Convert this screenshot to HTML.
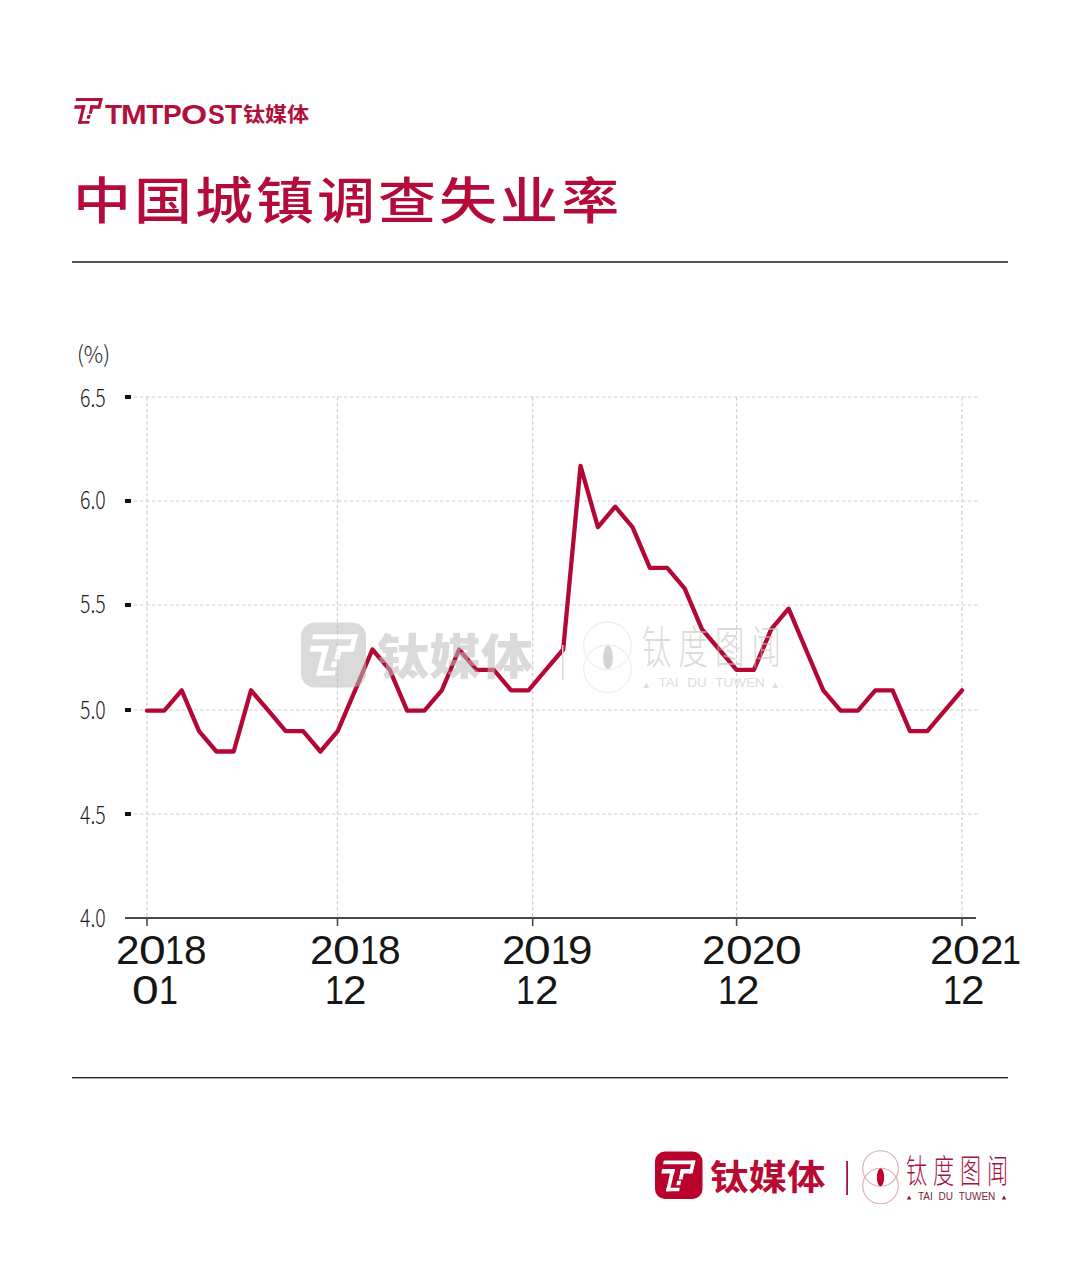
<!DOCTYPE html>
<html lang="zh-CN">
<head>
<meta charset="utf-8">
<title>中国城镇调查失业率</title>
<style>
html,body{margin:0;padding:0;background:#fff;}
body{width:1080px;height:1281px;position:relative;overflow:hidden;font-family:"Liberation Sans","Noto Sans CJK SC",sans-serif;}
.abs{position:absolute;white-space:nowrap;line-height:1;}
svg.abs{left:0;top:0;}
#brand{left:105px;top:100.5px;width:140px;height:30px;font-family:"Liberation Sans",sans-serif;font-weight:700;font-size:28px;color:#b0103a;}
#brand span{position:absolute;top:0;transform-origin:0 0;}
#brandcn{left:243px;top:105.1px;font-family:"Liberation Sans","Noto Sans CJK SC",sans-serif;font-weight:700;font-size:20px;color:#b0103a;transform-origin:0 0;transform:scaleX(1.1);}
#title{left:73.2px;top:176.7px;font-family:"Liberation Sans","Noto Sans CJK SC",sans-serif;font-weight:500;font-size:50px;color:#b40b3a;letter-spacing:2.6px;transform-origin:0 0;transform:scaleX(1.16);}
.yl{font-family:"Noto Sans CJK SC",sans-serif;font-weight:300;font-size:24.3px;color:#222;transform-origin:0 0;transform:scaleX(0.8);}
.xl{font-family:"Liberation Sans",sans-serif;font-size:40px;color:#161616;width:1080px;height:42px;}
.xl span{position:absolute;top:0;transform-origin:0 0;}
.cn{font-family:"Liberation Sans","Noto Sans CJK SC",sans-serif;}
</style>
</head>
<body>
<svg class="abs" width="1080" height="1281" viewBox="0 0 1080 1281">
  <!-- header icon -->
  <g id="hicon" fill="#b0103a"><polygon points="76.11,97.93 102.78,97.93 102.15,101.07 75.56,101.07"/><polygon points="99.63,97.93 102.78,97.93 100.37,108.85 97.22,108.85"/><polygon points="90.56,105.15 99.63,105.15 98.89,108.85 89.81,108.85"/><polygon points="90.56,105.15 93.70,105.15 91.85,113.85 88.70,113.85"/><polygon points="87.41,114.96 90.74,114.96 90.00,118.67 86.67,118.67"/><polygon points="74.81,105.15 85.56,105.15 84.81,108.85 74.07,108.85"/><polygon points="82.22,105.15 85.56,105.15 81.11,123.85 77.96,123.85"/><polygon points="78.52,120.89 89.63,120.89 89.07,123.85 77.96,123.85"/></g>

  <!-- separators -->
  <rect id="sep1" x="72" y="261" width="936" height="2" fill="#555"/>
  <rect id="sep2" x="72" y="1077" width="936" height="1.4" fill="#2a2a2a"/>

  <!-- gridlines -->
  <g id="grid" stroke="#cfcfcf" stroke-width="1.2" stroke-dasharray="3.5,2.5" fill="none">
    <line x1="134" y1="397" x2="979" y2="397"/>
    <line x1="134" y1="501" x2="979" y2="501"/>
    <line x1="134" y1="605" x2="979" y2="605"/>
    <line x1="134" y1="710" x2="979" y2="710"/>
    <line x1="134" y1="814" x2="979" y2="814"/>
    <line x1="147" y1="397" x2="147" y2="917"/>
    <line x1="337.5" y1="397" x2="337.5" y2="917"/>
    <line x1="532.7" y1="397" x2="532.7" y2="917"/>
    <line x1="736.6" y1="397" x2="736.6" y2="917"/>
    <line x1="962" y1="397" x2="962" y2="917"/>
  </g>
  <!-- y ticks -->
  <g fill="#111">
    <rect x="125" y="395" width="6" height="4"/>
    <rect x="125" y="499" width="6" height="4"/>
    <rect x="125" y="603" width="6" height="4"/>
    <rect x="125" y="708" width="6" height="4"/>
    <rect x="125" y="812" width="6" height="4"/>
  </g>
  <!-- x axis -->
  <rect x="125" y="917" width="851" height="2" fill="#4a4a4a"/>
  <g stroke="#4a4a4a" stroke-width="1.6">
    <line x1="147" y1="918" x2="147" y2="926"/>
    <line x1="337.5" y1="918" x2="337.5" y2="926"/>
    <line x1="532.7" y1="918" x2="532.7" y2="926"/>
    <line x1="736.6" y1="918" x2="736.6" y2="926"/>
    <line x1="962" y1="918" x2="962" y2="926"/>
  </g>

  <!-- data line -->
  <polyline id="dline" fill="none" stroke="#b40834" stroke-width="4.3" stroke-linejoin="round" stroke-linecap="round"
    points="147.0,710.7 164.3,710.7 181.7,690.3 199.0,731.1 216.4,751.5 233.7,751.5 251.0,690.3 268.4,710.7 285.7,731.1 303.1,731.1 320.4,751.5 337.7,731.1 355.1,690.3 372.4,649.5 389.8,669.9 407.1,710.7 424.4,710.7 441.8,690.3 459.1,649.5 476.5,669.9 493.8,669.9 511.1,690.3 528.5,690.3 545.8,669.9 563.2,649.5 580.5,465.9 597.9,527.1 615.2,506.7 632.5,527.1 649.9,567.9 667.2,567.9 684.6,588.3 701.9,629.1 719.2,649.5 736.6,669.9 753.9,669.9 771.3,629.1 788.6,608.7 805.9,649.5 823.3,690.3 840.6,710.7 858.0,710.7 875.3,690.3 892.6,690.3 910.0,731.1 927.3,731.1 944.7,710.7 962.0,690.3"/>

  <!-- watermark 1 -->
  <g id="wmbox" opacity="0.55">
    <rect x="301" y="622.5" width="65" height="65" rx="14" fill="#bdbdbd"/>
    <g fill="#fff"><polygon points="313.03,634.24 357.89,634.24 356.83,639.25 312.10,639.25"/><polygon points="352.59,634.24 357.89,634.24 353.84,651.64 348.54,651.64"/><polygon points="337.33,645.75 352.59,645.75 351.34,651.64 336.08,651.64"/><polygon points="337.33,645.75 342.62,645.75 339.51,659.61 334.21,659.61"/><polygon points="332.03,661.38 337.64,661.38 336.39,667.28 330.79,667.28"/><polygon points="310.85,645.75 328.92,645.75 327.67,651.64 309.60,651.64"/><polygon points="323.31,645.75 328.92,645.75 321.44,675.54 316.14,675.54"/><polygon points="317.08,670.82 335.77,670.82 334.83,675.54 316.14,675.54"/></g>
  </g>
  <!-- watermark 2 -->
  <line id="wmsep" x1="562.8" y1="645" x2="562.8" y2="680" stroke="#d8d8d8" stroke-width="1.4"/>
  <g id="wmcirc" fill="none" stroke="#efefef" stroke-width="1.3">
    <circle cx="607.5" cy="645.8" r="23.8"/>
    <circle cx="607.5" cy="668.8" r="23.8"/>
  </g>
  <g id="wmtri" fill="#dedede"><polygon points="643.6,688 649.1,688 646.35,682.5"/><polygon points="772.5,688 778,688 775.25,682.5"/></g>
  <ellipse id="wmell" cx="608" cy="657.5" rx="4.9" ry="11.8" fill="#d3d3d3"/>

  <!-- footer logo -->
  <rect id="fbox" x="655" y="1151.5" width="47.5" height="47.5" rx="10" fill="#b8022c"/>
  <g fill="#fff"><polygon points="663.76,1160.54 695.44,1160.54 694.69,1164.28 663.10,1164.28"/><polygon points="691.70,1160.54 695.44,1160.54 692.58,1173.52 688.84,1173.52"/><polygon points="680.92,1169.12 691.70,1169.12 690.82,1173.52 680.04,1173.52"/><polygon points="680.92,1169.12 684.66,1169.12 682.46,1179.46 678.72,1179.46"/><polygon points="677.18,1180.78 681.14,1180.78 680.26,1185.18 676.30,1185.18"/><polygon points="662.22,1169.12 674.98,1169.12 674.10,1173.52 661.34,1173.52"/><polygon points="671.02,1169.12 674.98,1169.12 669.70,1191.34 665.96,1191.34"/><polygon points="666.62,1187.82 679.82,1187.82 679.16,1191.34 665.96,1191.34"/></g>
  <rect id="fbar" x="846.2" y="1161" width="1.8" height="34" fill="#a3143f"/>
  <g id="fcirc" fill="none" stroke="#d9b0bb" stroke-width="1.15">
    <circle cx="880.5" cy="1168.5" r="17.8"/>
    <circle cx="880.5" cy="1186" r="17.8"/>
  </g>
  <g id="ftri" fill="#8a1a3a"><polygon points="906.8,1199.5 911.4,1199.5 909.1,1195.6"/><polygon points="1001.7,1199.5 1006.3,1199.5 1004,1195.6"/></g>
  <ellipse id="fell" cx="880.5" cy="1177.3" rx="3.6" ry="9" fill="#c2002e"/>
</svg>

<div class="abs" id="brand"><span style="left:0.1px;transform:scaleX(1.0);">T</span><span style="left:16.2px;transform:scaleX(1.1);">M</span><span style="left:41.3px;transform:scaleX(1.0);">T</span><span style="left:58.0px;transform:scaleX(1.0);">P</span><span style="left:75.6px;transform:scaleX(1.2);">O</span><span style="left:102.8px;transform:scaleX(0.9);">S</span><span style="left:119.9px;transform:scaleX(1.0);">T</span></div>
<div class="abs" id="brandcn">钛媒体</div>
<div class="abs" id="title">中国城镇调查失业率</div>

<!-- y labels -->
<div class="abs yl" id="ypct" style="left:77px;top:342.2px;font-size:23px;transform:scaleX(0.94);">(%)</div>
<div class="abs yl" style="left:79.8px;top:384.7px;">6.5</div>
<div class="abs yl" style="left:79.8px;top:487px;">6.0</div>
<div class="abs yl" style="left:79.6px;top:591.4px;">5.5</div>
<div class="abs yl" style="left:79.6px;top:696.7px;">5.0</div>
<div class="abs yl" style="left:80px;top:801.7px;">4.5</div>
<div class="abs yl" style="left:80px;top:904.8px;">4.0</div>

<!-- x labels -->
<div class="abs xl" style="left:0;top:930px;"><span style="left:116.4px;transform:scaleX(1.056);">2</span><span style="left:139.2px;transform:scaleX(1.200);">0</span><span style="left:165.4px;transform:scaleX(0.853);">1</span><span style="left:183.6px;transform:scaleX(1.016);">8</span></div>
<div class="abs xl" style="left:0;top:970px;"><span style="left:132.3px;transform:scaleX(1.200);">0</span><span style="left:158.5px;transform:scaleX(0.853);">1</span></div>
<div class="abs xl" style="left:0;top:930px;"><span style="left:310.1px;transform:scaleX(1.056);">2</span><span style="left:332.7px;transform:scaleX(1.200);">0</span><span style="left:359.5px;transform:scaleX(0.853);">1</span><span style="left:378.0px;transform:scaleX(1.016);">8</span></div>
<div class="abs xl" style="left:0;top:970px;"><span style="left:324.9px;transform:scaleX(0.853);">1</span><span style="left:343.2px;transform:scaleX(1.056);">2</span></div>
<div class="abs xl" style="left:0;top:930px;"><span style="left:501.6px;transform:scaleX(1.056);">2</span><span style="left:524.2px;transform:scaleX(1.200);">0</span><span style="left:551.0px;transform:scaleX(0.853);">1</span><span style="left:568.2px;transform:scaleX(1.100);">9</span></div>
<div class="abs xl" style="left:0;top:970px;"><span style="left:516.3px;transform:scaleX(0.853);">1</span><span style="left:535.2px;transform:scaleX(1.056);">2</span></div>
<div class="abs xl" style="left:0;top:930px;"><span style="left:702.3px;transform:scaleX(1.056);">2</span><span style="left:725.8px;transform:scaleX(1.200);">0</span><span style="left:751.8px;transform:scaleX(1.056);">2</span><span style="left:774.9px;transform:scaleX(1.200);">0</span></div>
<div class="abs xl" style="left:0;top:970px;"><span style="left:717.9px;transform:scaleX(0.853);">1</span><span style="left:736.2px;transform:scaleX(1.056);">2</span></div>
<div class="abs xl" style="left:0;top:930px;"><span style="left:929.6px;transform:scaleX(1.056);">2</span><span style="left:952.7px;transform:scaleX(1.200);">0</span><span style="left:979.5px;transform:scaleX(1.056);">2</span><span style="left:1002.4px;transform:scaleX(0.853);">1</span></div>
<div class="abs xl" style="left:0;top:970px;"><span style="left:943.4px;transform:scaleX(0.853);">1</span><span style="left:961.2px;transform:scaleX(1.056);">2</span></div>

<!-- watermark text (over the line) -->
<div class="abs cn" id="wmcn" style="left:376.5px;top:634.4px;font-weight:900;font-size:47.6px;color:#bdbdbd;opacity:0.55;transform-origin:0 0;transform:scaleX(1.093);">钛媒体</div>
<div class="abs cn" id="wmcn2" style="left:642px;top:625.8px;font-weight:300;font-size:45px;color:#c4c4c4;opacity:0.6;letter-spacing:10.8px;transform-origin:0 0;transform:scaleX(0.654);">钛度图闻</div>
<div class="abs" id="wmtai" style="left:658.5px;top:676px;font-family:'Liberation Sans',sans-serif;font-size:13.5px;color:#dcdcdc;word-spacing:5px;">TAI DU TUWEN</div>

<!-- footer text -->
<div class="abs cn" id="fcn" style="left:709.7px;top:1160.2px;font-weight:700;font-size:35.2px;color:#b80a32;transform-origin:0 0;transform:scaleX(1.093);">钛媒体</div>
<div class="abs cn" id="fcn2" style="left:906px;top:1154.9px;font-weight:300;font-size:33px;color:#a3143f;letter-spacing:9.2px;transform-origin:0 0;transform:scaleX(0.64);">钛度图闻</div>
<div class="abs" id="ftai" style="left:918px;top:1192px;font-family:'Liberation Sans',sans-serif;font-size:10px;color:#7a1f3a;word-spacing:3px;">TAI DU TUWEN</div>
</body>
</html>
